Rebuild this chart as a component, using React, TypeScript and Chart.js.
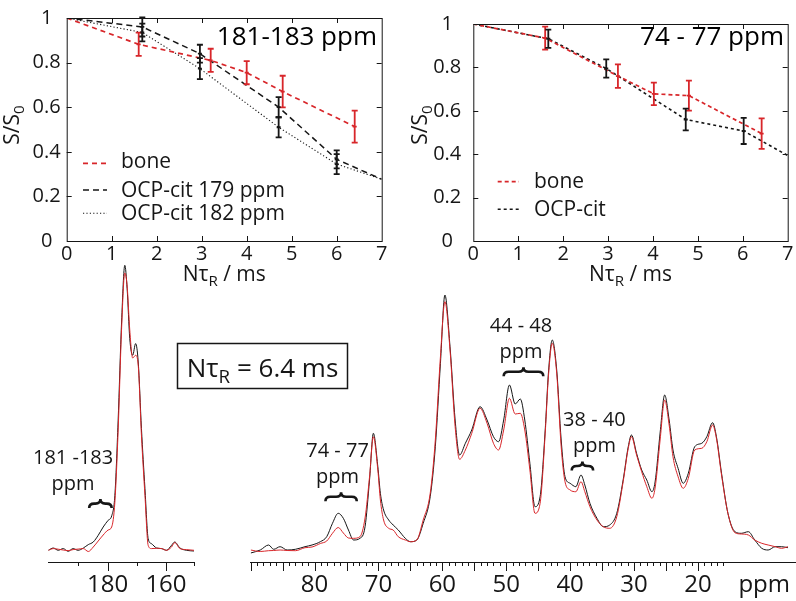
import React, { useEffect, useRef } from "react";
import { Chart, registerables } from "chart.js";

Chart.register(...registerables);

const FONT = "'Open Sans', 'Noto Sans', sans-serif";
const RED = "#d8262a";
const INK = "#161616";

// ---------- top panels: S/S0 vs N*tauR ----------
const tauTicks = [0, 1, 2, 3, 4, 5, 6, 7];
const ratioTicks = [0, 0.2, 0.4, 0.6, 0.8, 1];

// 181-183 ppm panel
const tlBoneTau = [0, 1.6, 3.2, 4.0, 4.8, 6.4];
const tlBone = [1, 0.882, 0.81, 0.755, 0.67, 0.513];
const tlBoneErr = [0, 0.052, 0.052, 0.052, 0.071, 0.072];
const tlOcpTau = [0, 1.68, 2.96, 4.71, 6.0, 7.0];
const tlOcp179 = [1, 0.96, 0.84, 0.6, 0.366, 0.277];
const tlOcp179Err = [0, 0.043, 0.04, 0.045, 0.04, 0];
const tlOcp182 = [1, 0.935, 0.773, 0.51, 0.345, 0.277];
const tlOcp182Err = [0, 0.04, 0.047, 0.045, 0.045, 0];

// 74-77 ppm panel
const trBoneTau = [0, 1.6, 3.22, 4.02, 4.8, 6.42];
const trBone = [1, 0.935, 0.76, 0.678, 0.67, 0.495];
const trBoneErr = [0, 0.053, 0.054, 0.052, 0.069, 0.07];
const trOcpTau = [0, 1.67, 2.96, 4.73, 6.02, 7.0];
const trOcp = [1, 0.932, 0.795, 0.56, 0.507, 0.394];
const trOcpErr = [0, 0.042, 0.042, 0.05, 0.06, 0];

// ---------- bottom spectra ----------
// carboxyl region (ppm, intensity a.u.)
const leftPpm = [200.3, 198.6, 196.9, 195.2, 193.5, 191.8, 190.1, 188.3, 186.6, 184.9, 183.2, 181.5, 179.8, 178.6, 177.5, 176.4, 175.2, 174.1, 173.3, 172.4, 171.4, 170.4, 169.5, 168.4, 167.2, 166.1, 165.0, 163.2, 161.5, 159.8, 158.1, 157.0, 155.2, 153.0, 150.4];
const leftOcp = [11.7, 14.0, 11.7, 13.4, 10.7, 13.4, 11.7, 14.0, 17.4, 20.0, 26.7, 35.0, 41.7, 46.0, 66.7, 140, 240, 296.7, 273.4, 223.4, 206.7, 218.4, 200, 133.4, 73.4, 23.4, 18.4, 14.0, 13.4, 11.7, 16.7, 20.0, 14.0, 11.7, 11.0];
const leftBone = [11.7, 13.4, 12.8, 12, 11.4, 12.4, 12.9, 13.4, 10.5, 15.0, 21, 27, 32, 35, 60, 130, 233.4, 289, 276, 232, 204, 206.7, 196.7, 126.7, 66.7, 16.7, 13.4, 13.7, 13.4, 11.7, 15, 19.4, 13.4, 12.4, 11.7];
const leftLabelTicks = [180, 160];
const leftMarkTicks = [190, 180, 170, 160, 150.5];

// aliphatic region
const rightPpm = [90.0, 88.5, 87.2, 86.4, 85.4, 84.3, 83.0, 81.5, 80.4, 79.1, 78.1, 77.2, 76.3, 75.5, 74.7, 73.9, 72.9, 72.1, 71.4, 70.8, 70.1, 69.7, 69.2, 68.4, 67.7, 66.9, 65.8, 65.0, 64.0, 63.0, 61.9, 61.1, 60.3, 59.6, 58.8, 58.0, 57.3, 56.4, 55.4, 54.1, 53.0, 52.0, 51.2, 50.4, 49.5, 48.6, 47.8, 47.1, 46.3, 45.5, 44.7, 43.9, 43.4, 42.8, 42.1, 41.4, 40.8, 40.0, 39.1, 38.3, 37.7, 36.9, 35.8, 34.8, 33.8, 32.7, 31.7, 30.9, 30.4, 29.6, 28.8, 28.0, 27.2, 26.7, 25.9, 25.2, 24.5, 23.9, 23.1, 22.3, 21.5, 20.5, 19.4, 18.6, 17.7, 17.1, 16.3, 15.3, 14.2, 13.2, 12.1, 11.1, 10.0, 9.0, 7.9, 6.9, 5.9];
const rightOcp = [9, 12, 17, 12.7, 15.3, 12, 12.7, 15.3, 17, 20.3, 25.3, 38.7, 48.7, 43.7, 32, 22, 23.7, 35.3, 82, 128.7, 95.3, 68.7, 52, 42, 37, 32, 23.7, 20.3, 22, 38.7, 65.3, 115.3, 198.7, 267, 215.3, 142, 107, 118.7, 132, 155.3, 142, 125.3, 120.3, 142, 177, 158, 163, 142, 98.7, 55.3, 65.3, 132, 188.7, 222, 192, 122, 85.3, 78.7, 75.3, 87, 77, 58.7, 43.7, 35.3, 37, 48.7, 82, 115.3, 127, 108.7, 92, 82, 70.3, 80, 130, 167, 142, 112, 93.7, 78.7, 88.7, 115.3, 118.7, 125.3, 139.3, 125.3, 88.7, 48.7, 30.3, 28.7, 30.3, 22, 13.7, 12, 15.3, 15.3, 14.3];
const rightBone = [12, 10.5, 11.3, 11.5, 12, 11.5, 11.3, 14.3, 15, 18.5, 21, 28.7, 34.5, 29, 24, 23.7, 25.3, 44, 85, 125.3, 92, 62, 42, 33.7, 32, 25.3, 22, 20.3, 22, 42, 68.7, 122, 205.3, 260.3, 212, 135.3, 102.7, 112, 128.7, 153.7, 138.7, 118.7, 112, 132, 163.7, 148, 148.7, 132, 92, 48.7, 58.7, 128.7, 185.3, 218.7, 188.7, 115.3, 80.3, 72, 70.3, 80.3, 70.3, 55.3, 42, 35.3, 33.7, 45.3, 80.3, 113.7, 125.3, 107, 90.3, 75.3, 63.7, 74, 123, 162, 137, 105.3, 85.3, 73.7, 83.7, 112, 113.7, 120.3, 137, 123.7, 87, 48.7, 29.3, 28, 27, 22, 18.7, 17, 15.3, 13.7, 15.3];
const rightLabelTicks = [80, 70, 60, 50, 40, 30, 20];
const rightMarkTicks = Array.from({ length: 75 }, (_, i) => 90 - i);

// annotation labels: text, text centre (ppm), brace range (ppm), brace level (a.u.)
const leftNotes = [{ text: "181 -183", center: 191.8, from: 186.3, to: 178.6, level: 58.4 }];
const rightNotes = [
  { text: "74 - 77", center: 76.4, from: 78.3, to: 73.4, level: 65.3 },
  { text: "44 - 48", center: 47.7, from: 50.4, to: 44.2, level: 190.3 },
  { text: "38 - 40", center: 36.2, from: 39.75, to: 36.4, level: 96 },
];

type Part = { t: string; sub?: boolean };

function drawParts(ctx: CanvasRenderingContext2D, parts: Part[], x: number, y: number, size: number, align: "left" | "center" | "right") {
  const subSize = size * 0.72;
  let total = 0;
  const widths = parts.map((p) => {
    ctx.font = `${p.sub ? subSize : size}px ${FONT}`;
    const w = ctx.measureText(p.t).width;
    total += w;
    return w;
  });
  let cx = align === "left" ? x : align === "center" ? x - total / 2 : x - total;
  ctx.textAlign = "left";
  ctx.textBaseline = "alphabetic";
  parts.forEach((p, i) => {
    ctx.font = `${p.sub ? subSize : size}px ${FONT}`;
    ctx.fillText(p.t, cx, p.sub ? y + size * 0.26 : y);
    cx += widths[i];
  });
}

type Series = { label: string; tau: number[]; val: number[]; err: number[]; color: string; dash: number[]; width: number };

type TopLayout = {
  padRight: number;
  yWidth: number;
  yPad: number;
  legendLineX: [number, number];
  legendTextX: number;
  legendLineY: number[];
  legendTextY: number[];
  titleRight: number;
  titleBase: number;
  yTitleX: number;
};

function makeTopPanel(canvas: HTMLCanvasElement, series: Series[], title: string, L: TopLayout) {
  const deco = {
    id: "topDeco",
    afterDatasetsDraw(chart: any) {
      const { ctx } = chart;
      const xs = chart.scales.x;
      const ys = chart.scales.y;
      ctx.save();
      ctx.setLineDash([]);
      series.forEach((s) => {
        ctx.strokeStyle = s.color;
        ctx.lineWidth = 1.8;
        s.tau.forEach((t, i) => {
          const e = s.err[i];
          if (!e) return;
          const px = xs.getPixelForValue(t);
          const yt = ys.getPixelForValue(s.val[i] + e);
          const yb = ys.getPixelForValue(s.val[i] - e);
          const yc = ys.getPixelForValue(s.val[i]);
          ctx.beginPath();
          ctx.moveTo(px, yt);
          ctx.lineTo(px, yb);
          ctx.moveTo(px - 3, yt);
          ctx.lineTo(px + 3, yt);
          ctx.moveTo(px - 3, yb);
          ctx.lineTo(px + 3, yb);
          ctx.moveTo(px - 2, yc);
          ctx.lineTo(px + 2, yc);
          ctx.stroke();
        });
      });
      ctx.restore();
    },
    afterDraw(chart: any) {
      const { ctx, chartArea: a } = chart;
      const xs = chart.scales.x;
      const ys = chart.scales.y;
      ctx.save();
      ctx.setLineDash([]);
      ctx.strokeStyle = INK;
      ctx.lineWidth = 1;
      ctx.strokeRect(a.left + 0.5, a.top + 0.5, a.right - a.left, a.bottom - a.top);
      ctx.beginPath();
      tauTicks.slice(1, -1).forEach((v) => {
        const px = Math.round(xs.getPixelForValue(v)) + 0.5;
        ctx.moveTo(px, a.bottom);
        ctx.lineTo(px, a.bottom - 5);
        ctx.moveTo(px, a.top);
        ctx.lineTo(px, a.top + 5);
      });
      ratioTicks.slice(1, -1).forEach((v) => {
        const py = Math.round(ys.getPixelForValue(v)) + 0.5;
        ctx.moveTo(a.left, py);
        ctx.lineTo(a.left + 5, py);
        ctx.moveTo(a.right, py);
        ctx.lineTo(a.right - 5, py);
      });
      ctx.stroke();

      // legend
      series.forEach((s, i) => {
        ctx.strokeStyle = s.color;
        ctx.lineWidth = s.width;
        ctx.setLineDash(s.dash);
        ctx.beginPath();
        ctx.moveTo(L.legendLineX[0], L.legendLineY[i]);
        ctx.lineTo(L.legendLineX[1], L.legendLineY[i]);
        ctx.stroke();
        ctx.setLineDash([]);
        ctx.fillStyle = INK;
        ctx.font = `21px ${FONT}`;
        ctx.textAlign = "left";
        ctx.textBaseline = "alphabetic";
        ctx.fillText(s.label, L.legendTextX, L.legendTextY[i]);
      });

      // title
      ctx.fillStyle = "#000";
      ctx.font = `26px ${FONT}`;
      ctx.textAlign = "right";
      ctx.textBaseline = "alphabetic";
      ctx.fillText(title, L.titleRight, L.titleBase);

      // axis titles
      ctx.fillStyle = INK;
      drawParts(ctx, [{ t: "Nτ" }, { t: "R", sub: true }, { t: " / ms" }], (a.left + a.right) / 2, 281, 21, "center");
      ctx.save();
      ctx.translate(L.yTitleX, 125);
      ctx.rotate(-Math.PI / 2);
      drawParts(ctx, [{ t: "S/S" }, { t: "0", sub: true }], 0, 0, 21, "center");
      ctx.restore();
      ctx.restore();
    },
  };

  return new Chart(canvas, {
    type: "line",
    data: {
      datasets: series.map((s) => ({
        label: s.label,
        data: s.tau.map((t, i) => ({ x: t, y: s.val[i] })),
        borderColor: s.color,
        borderDash: s.dash,
        borderWidth: s.width,
        pointRadius: 0,
        fill: false,
        tension: 0,
      })),
    },
    options: {
      responsive: false,
      animation: false,
      devicePixelRatio: 1,
      layout: { padding: { left: 0, right: L.padRight, top: 15.7, bottom: 0 } },
      plugins: { legend: { display: false }, tooltip: { enabled: false } },
      scales: {
        x: {
          type: "linear",
          min: 0,
          max: 7,
          grid: { display: false, drawTicks: false },
          border: { display: false },
          ticks: {
            font: { size: 20, family: FONT },
            color: INK,
            padding: 1,
            maxRotation: 0,
            autoSkip: false,
            callback: (v: number) => String(Math.round(v * 10) / 10),
          },
          afterBuildTicks: (s: any) => {
            s.ticks = tauTicks.map((v) => ({ value: v }));
          },
          afterFit: (s: any) => {
            s.height = 49;
          },
        },
        y: {
          type: "linear",
          min: 0,
          max: 1,
          grid: { display: false, drawTicks: false },
          border: { display: false },
          ticks: {
            font: { size: 20, family: FONT },
            color: INK,
            padding: L.yPad,
            crossAlign: "center",
            autoSkip: false,
            callback: (v: number) => String(Math.round(v * 10) / 10),
          },
          afterBuildTicks: (s: any) => {
            s.ticks = ratioTicks.map((v) => ({ value: v }));
          },
          afterFit: (s: any) => {
            s.width = L.yWidth;
          },
        },
      },
    } as any,
    plugins: [deco],
  });
}

type Note = { text: string; center: number; from: number; to: number; level: number };

function brace(ctx: CanvasRenderingContext2D, x1: number, x2: number, y: number) {
  const m = (x1 + x2) / 2;
  const r = Math.min(5, (x2 - x1) / 4);
  const h = 4.5;
  ctx.beginPath();
  ctx.moveTo(x1, y + h);
  ctx.quadraticCurveTo(x1, y, x1 + r, y);
  ctx.lineTo(m - r, y);
  ctx.quadraticCurveTo(m, y, m, y - h);
  ctx.quadraticCurveTo(m, y, m + r, y);
  ctx.lineTo(x2 - r, y);
  ctx.quadraticCurveTo(x2, y, x2, y + h);
  ctx.stroke();
}

function makeSpectrum(
  canvas: HTMLCanvasElement,
  ppm: number[],
  ocp: number[],
  bone: number[],
  xRange: [number, number],
  labelTicks: number[],
  markTicks: number[],
  isLong: (v: number) => boolean,
  pad: { left: number; right: number },
  notes: Note[],
  extra?: (ctx: CanvasRenderingContext2D) => void
) {
  const deco = {
    id: "specDeco",
    afterDraw(chart: any) {
      const { ctx, chartArea: a } = chart;
      const xs = chart.scales.x;
      const ys = chart.scales.y;
      ctx.save();
      ctx.strokeStyle = INK;
      ctx.lineWidth = 1;
      ctx.beginPath();
      markTicks.forEach((v) => {
        const px = Math.round(xs.getPixelForValue(v)) + 0.5;
        const len = isLong(v) ? 9 : 4;
        ctx.moveTo(px, a.bottom);
        ctx.lineTo(px, a.bottom + len);
      });
      ctx.stroke();

      ctx.fillStyle = INK;
      notes.forEach((n) => {
        const by = ys.getPixelForValue(n.level);
        const cx = xs.getPixelForValue(n.center);
        ctx.font = `20px ${FONT}`;
        ctx.textAlign = "center";
        ctx.textBaseline = "alphabetic";
        ctx.fillText(n.text, cx, by - 40);
        ctx.fillText("ppm", cx, by - 14);
        ctx.lineWidth = 2.6;
        brace(ctx, xs.getPixelForValue(n.from), xs.getPixelForValue(n.to), by);
      });
      if (extra) extra(ctx);
      ctx.restore();
    },
  };

  return new Chart(canvas, {
    type: "line",
    data: {
      datasets: [
        {
          label: "bone",
          data: ppm.map((p, i) => ({ x: p, y: bone[i] })),
          borderColor: RED,
          borderWidth: 1,
          pointRadius: 0,
          cubicInterpolationMode: "monotone",
        },
        {
          label: "OCP-cit",
          data: ppm.map((p, i) => ({ x: p, y: ocp[i] })),
          borderColor: INK,
          borderWidth: 1,
          pointRadius: 0,
          cubicInterpolationMode: "monotone",
        },
      ],
    },
    options: {
      responsive: false,
      animation: false,
      devicePixelRatio: 1,
      layout: { padding: { left: pad.left, right: pad.right, top: 5, bottom: 0 } },
      plugins: { legend: { display: false }, tooltip: { enabled: false } },
      scales: {
        x: {
          type: "linear",
          reverse: true,
          min: xRange[0],
          max: xRange[1],
          grid: { display: false, drawTicks: false },
          border: { display: true, color: INK, width: 1 },
          ticks: { font: { size: 24, family: FONT }, color: INK, padding: 9, maxRotation: 0, autoSkip: false },
          afterBuildTicks: (s: any) => {
            s.ticks = labelTicks.map((v) => ({ value: v }));
          },
          afterFit: (s: any) => {
            s.height = 39;
          },
        },
        y: { display: false, min: 0, max: 307 },
      },
    } as any,
    plugins: [deco],
  });
}

export default function App() {
  const c1 = useRef<HTMLCanvasElement>(null);
  const c2 = useRef<HTMLCanvasElement>(null);
  const c3 = useRef<HTMLCanvasElement>(null);
  const c4 = useRef<HTMLCanvasElement>(null);

  useEffect(() => {
    const charts: Chart[] = [];
    charts.push(
      makeTopPanel(
        c1.current!,
        [
          { label: "bone", tau: tlBoneTau, val: tlBone, err: tlBoneErr, color: RED, dash: [5, 4], width: 1.7 },
          { label: "OCP-cit 179 ppm", tau: tlOcpTau, val: tlOcp179, err: tlOcp179Err, color: INK, dash: [6, 4], width: 1.5 },
          { label: "OCP-cit 182 ppm", tau: tlOcpTau, val: tlOcp182, err: tlOcp182Err, color: INK, dash: [1.2, 2.2], width: 1.1 },
        ],
        "181-183 ppm",
        {
          padRight: 18.3,
          yWidth: 66.7,
          yPad: 6,
          legendLineX: [83, 107],
          legendTextX: 121,
          legendLineY: [163.3, 190, 213.3],
          legendTextY: [168, 197, 220],
          titleRight: 377,
          titleBase: 45,
          yTitleX: 19,
        }
      )
    );
    charts.push(
      makeTopPanel(
        c2.current!,
        [
          { label: "bone", tau: trBoneTau, val: trBone, err: trBoneErr, color: RED, dash: [4, 3], width: 1.7 },
          { label: "OCP-cit", tau: trOcpTau, val: trOcp, err: trOcpErr, color: INK, dash: [3, 3], width: 1.6 },
        ],
        "74 - 77 ppm",
        {
          padRight: 8.3,
          yWidth: 73.3,
          yPad: 12,
          legendLineX: [97.7, 119],
          legendTextX: 134,
          legendLineY: [181.7, 209.3],
          legendTextY: [188, 215.5],
          titleRight: 384,
          titleBase: 45,
          yTitleX: 27,
        }
      )
    );
    charts.push(
      makeSpectrum(
        c3.current!,
        leftPpm,
        leftOcp,
        leftBone,
        [150.4, 200.3],
        leftLabelTicks,
        leftMarkTicks,
        (v) => leftLabelTicks.includes(v),
        { left: 48.3, right: 16 },
        leftNotes
      )
    );
    charts.push(
      makeSpectrum(
        c4.current!,
        rightPpm,
        rightOcp,
        rightBone,
        [4.8, 90],
        rightLabelTicks,
        rightMarkTicks,
        (v) => v % 5 === 0,
        { left: 80.7, right: 1 },
        rightNotes,
        (ctx) => {
          ctx.strokeStyle = INK;
          ctx.lineWidth = 1.5;
          ctx.strokeRect(7.5, 93.5, 170, 45);
          ctx.fillStyle = INK;
          drawParts(ctx, [{ t: "Nτ" }, { t: "R", sub: true }, { t: " = 6.4 ms" }], 92.5, 126.5, 26, "center");
          ctx.font = `24px ${FONT}`;
          ctx.textAlign = "right";
          ctx.textBaseline = "alphabetic";
          ctx.fillText("ppm", 620, 342);
        }
      )
    );
    return () => charts.forEach((c) => c.destroy());
  }, []);

  const abs = (left: number, top: number): React.CSSProperties => ({ position: "absolute", left, top });

  return (
    <div style={{ position: "absolute", left: 0, top: 0, width: 796, height: 601, background: "#fff", overflow: "hidden" }}>
      <canvas ref={c1} width={400} height={290} style={abs(0, 0)} />
      <canvas ref={c2} width={396} height={290} style={abs(400, 0)} />
      <canvas ref={c3} width={210} height={351} style={abs(0, 250)} />
      <canvas ref={c4} width={626} height={351} style={abs(170, 250)} />
    </div>
  );
}
